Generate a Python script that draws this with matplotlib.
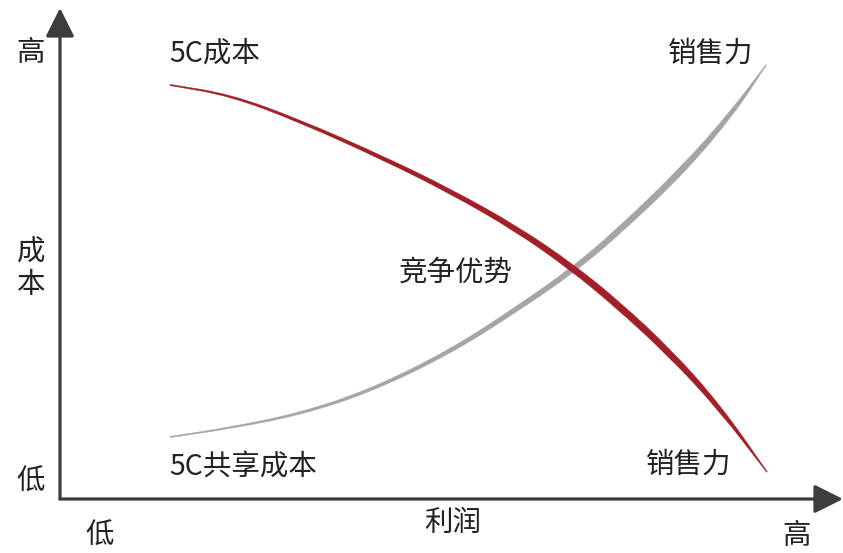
import numpy as np
import matplotlib
matplotlib.use("Agg")
import matplotlib.pyplot as plt
from matplotlib.patches import PathPatch
from matplotlib.path import Path

plt.rcParams['font.family'] = ['Noto Sans CJK SC', 'DejaVu Sans']

# 5C cost curve (red): profit position vs cost level, both 0-100
cost_x = [14.05, 21.71, 30.65, 41.25, 49.81, 58.37, 65.52, 71.14, 77.91, 84.29, 90.29]
cost_y = [84.32, 82.28, 76.99, 69.45, 62.73, 54.99, 47.05, 39.71, 29.74, 18.53, 5.50]
cost_width = [1.2, 2, 2.8, 3.8, 4.5, 5.5, 6.5, 7, 6.5, 4.5, 0.8]

# sales force curve (gray)
sales_x = [14.05, 21.71, 30.65, 39.59, 49.81, 58.37, 65.52, 71.14, 79.57, 85.95, 90.17]
sales_y = [12.63, 14.46, 17.31, 22.00, 29.94, 38.70, 46.64, 54.18, 67.01, 78.82, 88.39]
sales_width = [1.2, 1.6, 2.4, 3.1, 4, 4.8, 5.5, 6, 6.5, 4.5, 0.8]

RED = '#a31f27'
GRAY = '#a5a5a5'
AXIS = '#3d3d3d'
TXT = '#222222'
FS = 20.5


def smooth_edge(p):
    # quadratic bezier through mid points, read points used as control points
    verts = [p[0], (p[0] + p[1]) / 2]
    codes = [Path.LINETO, Path.LINETO]
    for i in range(1, len(p) - 1):
        verts += [p[i], (p[i] + p[i + 1]) / 2]
        codes += [Path.CURVE3, Path.CURVE3]
    verts.append(p[-1])
    codes.append(Path.LINETO)
    return verts, codes


def tapered(ax, xs, ys, widths, color, z):
    # crescent shaped band around the line, widths in pixels
    pts = ax.transData.transform(np.column_stack([xs, ys]))
    d = np.gradient(pts, axis=0)
    n = np.column_stack([-d[:, 1], d[:, 0]])
    n /= np.linalg.norm(n, axis=1)[:, None]
    w = np.array(widths)[:, None] / 2.0
    v1, c1 = smooth_edge(pts + n * w)
    v2, c2 = smooth_edge((pts - n * w)[::-1])
    verts = v1 + v2 + [v1[0]]
    codes = [Path.MOVETO] + c1[1:] + c2 + [Path.CLOSEPOLY]
    verts = ax.transData.inverted().transform(np.array(verts))
    ax.add_patch(PathPatch(Path(verts, codes), facecolor=color, edgecolor=color,
                           lw=0.3, zorder=z))


fig = plt.figure(figsize=(8.43, 5.53), dpi=100)
ax = fig.add_axes([60 / 843, 54 / 553, 783 / 843, 491 / 553])
ax.set_xlim(0, 100)
ax.set_ylim(0, 100)
ax.axis('off')

tapered(ax, sales_x, sales_y, sales_width, GRAY, 2)
tapered(ax, cost_x, cost_y, cost_width, RED, 3)

# axes with arrows
arrow = dict(arrowstyle='-|>', lw=2.3, color=AXIS, mutation_scale=44,
             shrinkA=0, shrinkB=0)
ax.annotate('', xy=(0, 1), xytext=(0, 0), xycoords='axes fraction',
            arrowprops=arrow, annotation_clip=False)
ax.annotate('', xy=(1, 0), xytext=(0, 0), xycoords='axes fraction',
            arrowprops=arrow, annotation_clip=False)

kw = dict(fontsize=FS, color=TXT, va='center', clip_on=False)
ax.text(-3.7, 90.8, '高', ha='center', **kw)
ax.text(-3.7, 46.8, '成\n本', ha='center', linespacing=1.1, **kw)
ax.text(-3.7, 3.5, '低', ha='center', **kw)
ax.text(5.1, -7.5, '低', ha='center', **kw)
ax.text(50.1, -4.9, '利润', ha='center', **kw)
ax.text(94.1, -7.5, '高', ha='center', **kw)

ax.text(14.0, 90.8, '5C成本', ha='left', **kw)
ax.text(83.1, 90.6, '销售力', ha='center', **kw)
ax.text(50.6, 46.2, '竞争优势', ha='center', **kw)
ax.text(14.0, 6.5, '5C共享成本', ha='left', **kw)
ax.text(80.3, 6.9, '销售力', ha='center', **kw)

fig.savefig('out.png', dpi=100, facecolor='white')
